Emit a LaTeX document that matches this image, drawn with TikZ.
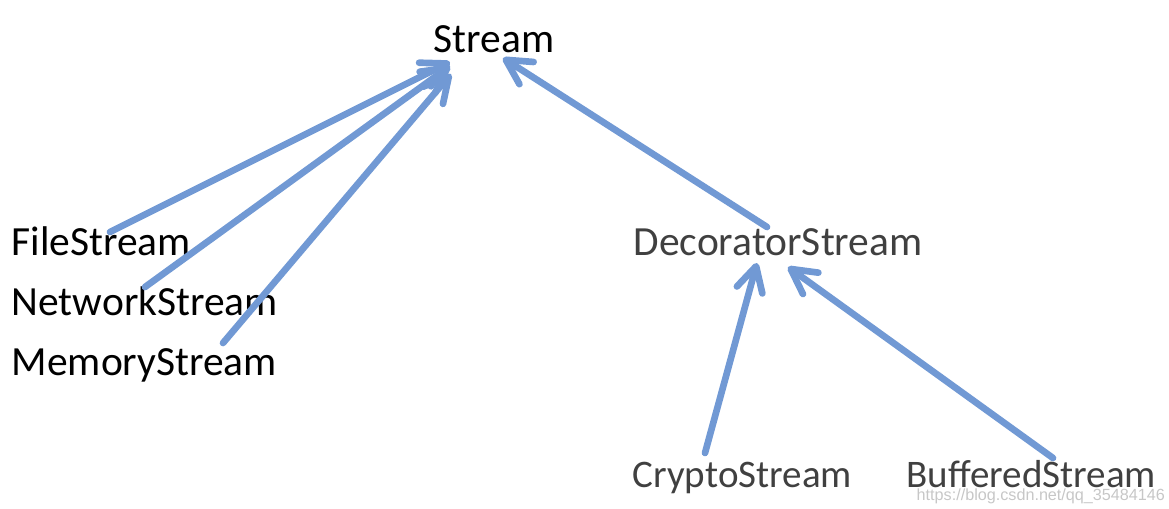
\documentclass[tikz,border=0pt]{standalone}
\usepackage{fontspec}
\setmainfont{Carlito}
\newfontfamily\wmfont{Liberation Sans}
\usepackage{xcolor}
\usetikzlibrary{arrows.meta,calc}
\definecolor{linkblue}{RGB}{113,153,212}
\definecolor{darktext}{RGB}{64,64,64}

\begin{document}
\begin{tikzpicture}[x=0.01cm, y=-0.01cm,
  lbl/.style={anchor=base west, inner sep=0pt, font=\fontsize{11.8}{14}\selectfont},
  small lbl/.style={lbl, font=\fontsize{11.1}{14}\selectfont},
  arr/.style={draw=linkblue, line width=1.9pt, line cap=round, line join=round,
    -{Straight Barb[length=7pt, width=7.5pt, line cap=round, line join=round]}}]
  \useasboundingbox (0,0) rectangle (1169,508);
  \node[lbl] (stream) at (433,52) {Stream};
  \node[lbl] (file) at (11,255) {FileStream};
  \node[lbl] (network) at (11,315) {NetworkStream};
  \node[lbl] (memory) at (11,375) {MemoryStream};
  \node[lbl, text=darktext] (deco) at (633,255) {DecoratorStream};
  \node[small lbl, text=darktext] (crypto) at (632,487) {CryptoStream};
  \node[small lbl, text=darktext] (buffered) at (906,487) {BufferedStream};
  \node[anchor=base west, inner sep=0pt, text=black!22, font=\wmfont\fontsize{4.6}{5}\selectfont] (mark) at (916,500) {https://blog.csdn.net/qq\_35484146};
  \draw[arr] ($(file.base west)+(99,-23)$) -- ($(stream.base west)+(17,10)$);
  \draw[arr] ($(network.base west)+(134,-28)$) -- ($(stream.base west)+(17,14)$);
  \draw[arr] ($(memory.base west)+(212,-32)$) -- ($(stream.base west)+(18,22)$);
  \draw[arr] ($(deco.base west)+(134,-28)$) -- ($(stream.base west)+(70,6)$);
  \draw[arr] ($(crypto.base west)+(73,-34)$) -- ($(deco.base west)+(124,8)$);
  \draw[arr] ($(buffered.base west)+(147,-29)$) -- ($(deco.base west)+(155,12)$);
\end{tikzpicture}
\end{document}
